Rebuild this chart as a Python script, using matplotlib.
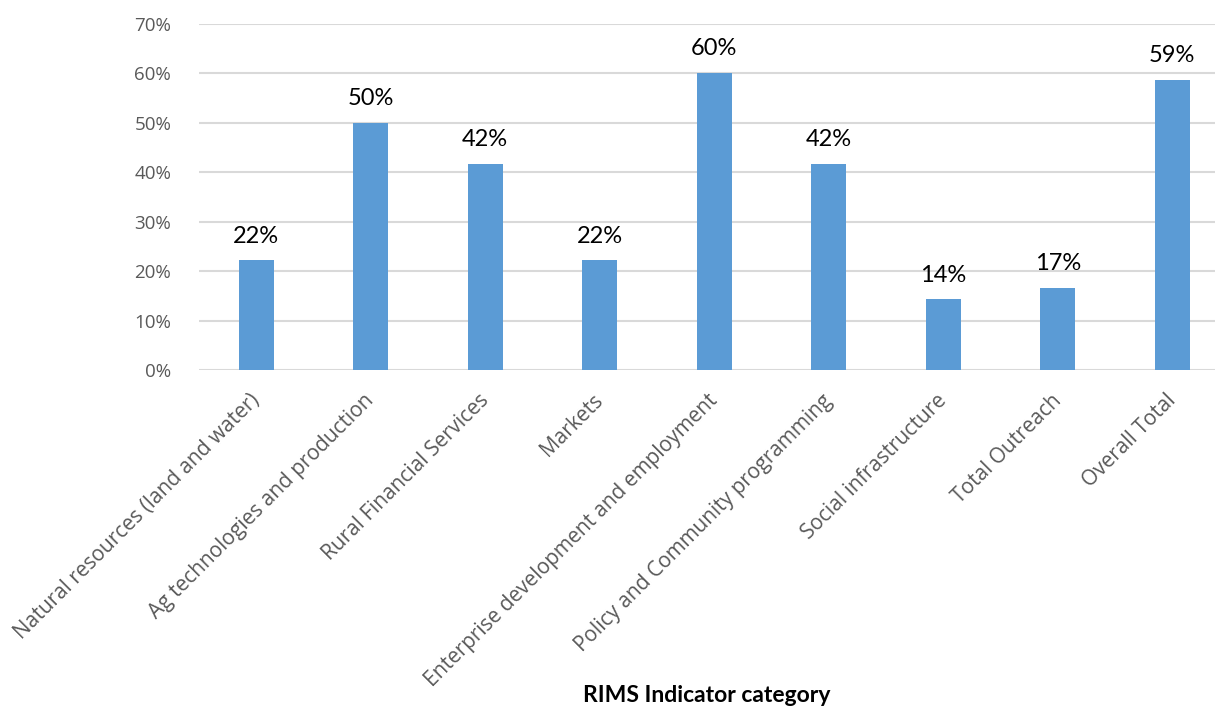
import matplotlib.pyplot as plt
import matplotlib.transforms as mtransforms
import numpy as np

### Category names and shares (percent)
categories = [
    'Natural resources (land and water)',
    'Ag technologies and production',
    'Rural Financial Services',
    'Markets',
    'Enterprise development and employment',
    'Policy and Community programming',
    'Social infrastructure',
    'Total Outreach',
    'Overall Total',
]
shares = [22.2, 50.0, 41.7, 22.2, 60.0, 41.7, 14.3, 16.7, 58.6]
y_ticks = [0, 10, 20, 30, 40, 50, 60, 70]

plt.rcParams['font.family'] = ['Lato', 'DejaVu Sans']

W, H = 1215, 709
fig = plt.figure(figsize=(W / 100, H / 100), dpi=100)
### Axes placed in pixel terms
left, right, top, bottom = 199, 1215, 23.7, 370.3
ax = fig.add_axes([left / W, 1 - bottom / H, (right - left) / W, (bottom - top) / H])

x = np.arange(len(categories))
ax.bar(x, shares, width=0.31, color='#5b9bd5', zorder=3)

### Value labels above each bar
for xi, v in zip(x, shares):
    ax.text(xi, v + 2.8, f'{v:.0f}%', ha='center', va='bottom',
            fontsize=17, color='black')

ax.set_ylim(0, 70)
ax.set_xlim(-0.5, -0.5 + (right - left) / 114.5)
ax.set_yticks(y_ticks)
ax.set_yticklabels([f'{t}%' for t in y_ticks], fontsize=13.5, color='#595959',
                   family='Open Sans')
ax.yaxis.grid(True, color='#d9d9d9', linewidth=1.5, zorder=0)
ax.set_xticks(x)
ax.set_xticklabels([])
ax.tick_params(axis='both', length=0)
ax.tick_params(axis='y', pad=20)
for s in ax.spines.values():
    s.set_visible(False)

### Slanted category names, top-right corner hung just under each bar
shift = mtransforms.ScaledTranslation(-7 / 100, -20 / 100, fig.dpi_scale_trans)
for xi, name in zip(x, categories):
    ax.text(xi, 0, name, transform=ax.get_xaxis_transform() + shift,
            rotation=45, rotation_mode='anchor', ha='right', va='top',
            fontsize=15, color='#595959', family='Open Sans')

fig.text(707 / W, 1 - 696 / H, 'RIMS Indicator category',
         ha='center', va='center', fontsize=16.5, fontweight='bold', color='black')

fig.savefig('out.png', dpi=100)
